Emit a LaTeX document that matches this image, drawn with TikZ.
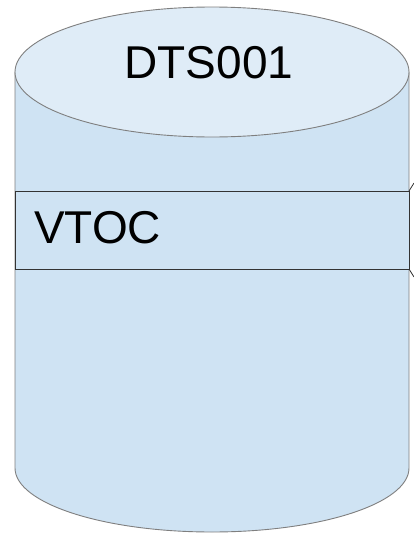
\documentclass[tikz,border=0pt]{standalone}
\usepackage{fontspec}
\setmainfont{Liberation Sans}
\definecolor{bodyblue}{HTML}{CFE3F3}
\definecolor{topblue}{HTML}{DFECF7}
\definecolor{edgegray}{HTML}{7F7F7F}
\definecolor{boxline}{HTML}{333333}
\tikzset{
  cyl/.style={draw=edgegray, line width=0.9pt},
  lbl/.style={inner sep=0pt, font=\fontsize{46}{50}\selectfont, text=black},
  vbox/.style={draw=boxline, line width=1pt, fill=bodyblue}
}
\begin{document}
\begin{tikzpicture}[x=1pt,y=-1pt]
\useasboundingbox (0,0) rectangle (414,533);
% cylinder body
\path[cyl, fill=bodyblue] (15,72) -- (15,468) arc[start angle=180, end angle=0, x radius=197, y radius=64] -- (409,72) -- cycle;
% top ellipse
\path[cyl, fill=topblue] (212,72) ellipse[x radius=197, y radius=65];
% VTOC band
\path[vbox] (15,191) rectangle (409,269);
\coordinate (bt) at (409,191);
\coordinate (bb) at (409,269);
\coordinate (et) at (414,183);
\coordinate (eb) at (414,277);
\draw[boxline, line width=0.8pt] (bt) -- (et);
\draw[boxline, line width=0.8pt] (bb) -- (eb);
% labels
\node[lbl, anchor=base] (dts) at (209,78) {DTS001};
\node[lbl, anchor=base west] (vtoc) at (34,243) {VTOC};
\end{tikzpicture}
\end{document}
